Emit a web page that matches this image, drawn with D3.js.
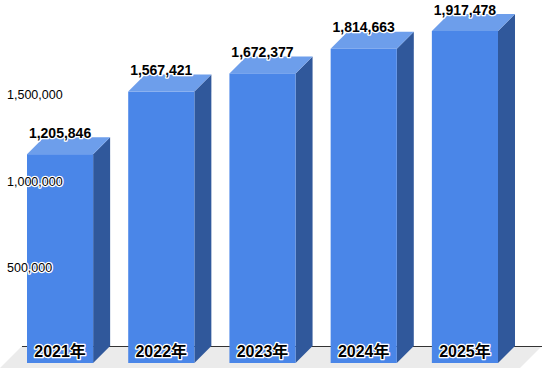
<!DOCTYPE html>
<html>
<head>
<meta charset="utf-8">
<script src="https://cdn.jsdelivr.net/npm/d3@7"></script>
<style>
  body { margin: 0; background: #fff; }
  svg text { font-family: "Liberation Sans", Arial, "Noto Sans CJK JP", sans-serif; paint-order: stroke; stroke: #fff; stroke-linejoin: round; }
</style>
</head>
<body>
<div id="chart"></div>
<script>
const years = ['2021年', '2022年', '2023年', '2024年', '2025年'];
const counts = [1205846, 1567421, 1672377, 1814663, 1917478];
const tickValues = [500000, 1000000, 1500000];

const width = 542, height = 368;
const depth = 17;          // 3d offset
const baseY = 363;         // front baseline

const svg = d3.select('#chart').append('svg')
    .attr('width', width)
    .attr('height', height);

const x = d3.scaleBand()
    .domain(years)
    .range([27, 498])
    .paddingInner(35 / 101)
    .paddingOuter(0);

const y = d3.scaleLinear()
    .domain([0, 1917478])
    .range([baseY, 31]);

// floor
svg.append('path')
    .attr('d', `M${depth + 5},${baseY - depth} L${width},${baseY - depth} L${width - depth - 5},${height} L0,${height} Z`)
    .attr('fill', '#ebebeb');
svg.append('line')
    .attr('x1', depth + 5).attr('x2', width)
    .attr('y1', baseY - depth + 0.5).attr('y2', baseY - depth + 0.5)
    .attr('stroke', '#333');

const bars = svg.append('g').selectAll('g')
    .data(years)
    .enter()
    .append('g');

// side
bars.append('path')
    .attr('d', (d, i) => {
        const x1 = x(d) + x.bandwidth();
        const top = y(counts[i]);
        return `M${x1},${top} L${x1 + depth},${top - depth} L${x1 + depth},${baseY - depth} L${x1},${baseY} Z`;
    })
    .attr('fill', '#30589b');

// top
bars.append('path')
    .attr('d', (d, i) => {
        const x0 = x(d), x1 = x(d) + x.bandwidth();
        const top = y(counts[i]);
        return `M${x0},${top} L${x0 + depth},${top - depth} L${x1 + depth},${top - depth} L${x1},${top} Z`;
    })
    .attr('fill', '#6d9eeb');

// front
bars.append('rect')
    .attr('x', d => x(d))
    .attr('y', (d, i) => y(counts[i]))
    .attr('width', x.bandwidth())
    .attr('height', (d, i) => baseY - y(counts[i]))
    .attr('fill', '#4a86e8');

// value labels
bars.append('text')
    .attr('x', d => x(d) + x.bandwidth() / 2)
    .attr('y', (d, i) => y(counts[i]) - depth + 0.5)
    .attr('text-anchor', 'middle')
    .style('font-size', '14px')
    .style('font-weight', 'bold')
    .attr('stroke-width', 2.5)
    .text((d, i) => d3.format(',')(counts[i]));

// category labels
bars.append('text')
    .attr('x', d => x(d) + x.bandwidth() / 2)
    .attr('y', 357)
    .attr('text-anchor', 'middle')
    .style('font-size', '16px')
    .style('font-weight', 'bold')
    .attr('stroke-width', 2.5)
    .text(d => d);

// axis labels (drawn at mid depth)
svg.append('g').selectAll('text')
    .data(tickValues)
    .enter()
    .append('text')
    .attr('x', 7)
    .attr('y', d => y(d) - depth / 2 + 4.5)
    .style('font-size', '12.5px')
    .attr('stroke-width', 2.5)
    .text(d => d3.format(',')(d));
</script>
</body>
</html>
